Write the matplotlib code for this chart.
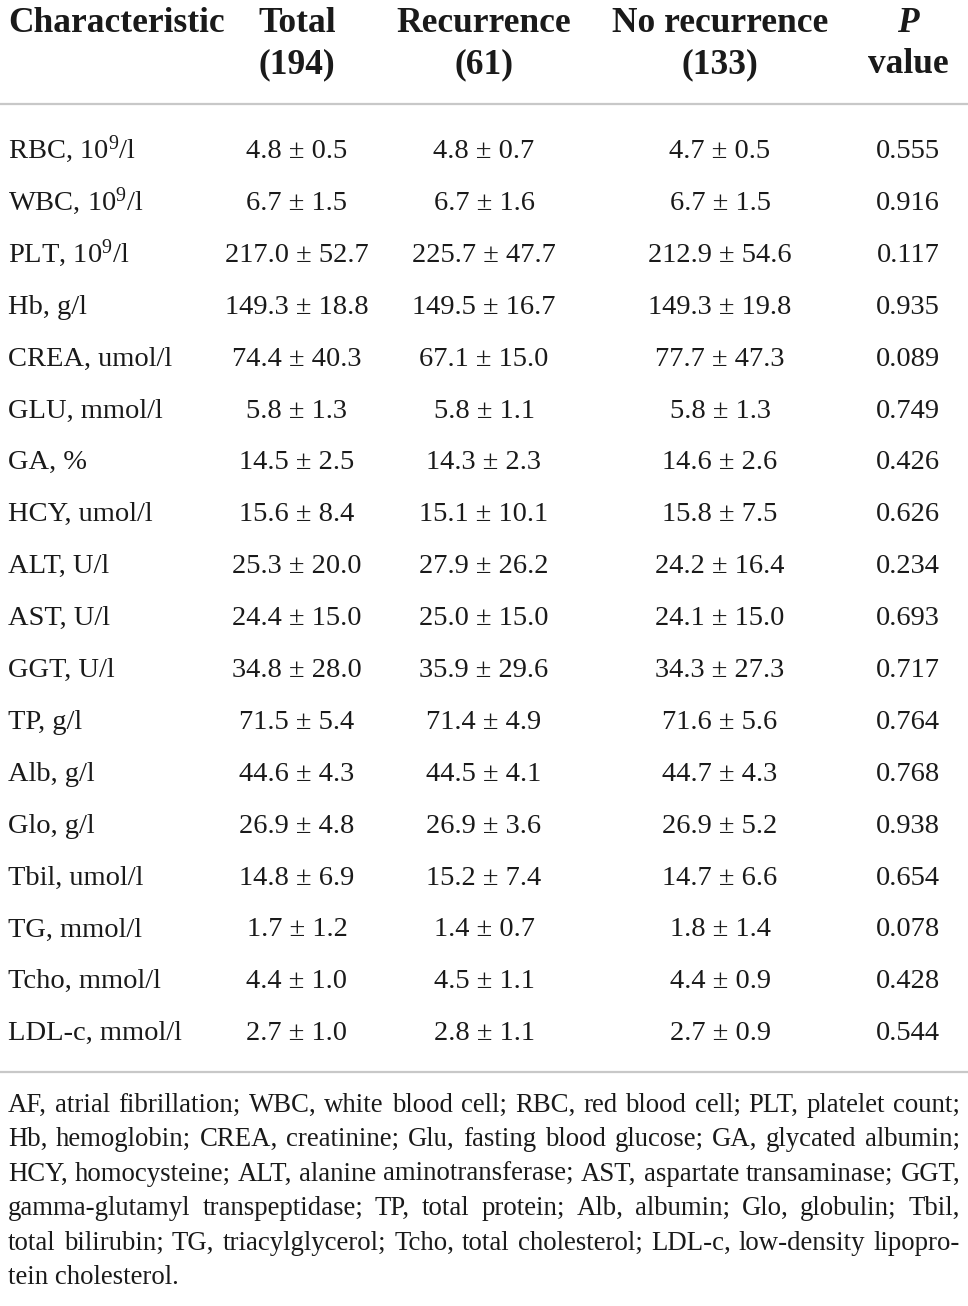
import matplotlib
matplotlib.use("Agg")
import matplotlib.pyplot as plt

plt.rcParams["font.family"] = ["Liberation Serif", "DejaVu Serif"]
plt.rcParams["mathtext.fontset"] = "custom"
plt.rcParams["mathtext.rm"] = "Liberation Serif"
plt.rcParams["mathtext.it"] = "Liberation Serif:italic"

# table data
characteristics = [
    "RBC, 10$^9$/l", "WBC, 10$^9$/l", "PLT, 10$^9$/l", "Hb, g/l", "CREA, umol/l",
    "GLU, mmol/l", "GA, %", "HCY, umol/l", "ALT, U/l", "AST, U/l", "GGT, U/l",
    "TP, g/l", "Alb, g/l", "Glo, g/l", "Tbil, umol/l", "TG, mmol/l",
    "Tcho, mmol/l", "LDL-c, mmol/l",
]
total = [
    "4.8 ± 0.5", "6.7 ± 1.5", "217.0 ± 52.7", "149.3 ± 18.8", "74.4 ± 40.3",
    "5.8 ± 1.3", "14.5 ± 2.5", "15.6 ± 8.4", "25.3 ± 20.0", "24.4 ± 15.0",
    "34.8 ± 28.0", "71.5 ± 5.4", "44.6 ± 4.3", "26.9 ± 4.8", "14.8 ± 6.9",
    "1.7 ± 1.2", "4.4 ± 1.0", "2.7 ± 1.0",
]
recurrence = [
    "4.8 ± 0.7", "6.7 ± 1.6", "225.7 ± 47.7", "149.5 ± 16.7", "67.1 ± 15.0",
    "5.8 ± 1.1", "14.3 ± 2.3", "15.1 ± 10.1", "27.9 ± 26.2", "25.0 ± 15.0",
    "35.9 ± 29.6", "71.4 ± 4.9", "44.5 ± 4.1", "26.9 ± 3.6", "15.2 ± 7.4",
    "1.4 ± 0.7", "4.5 ± 1.1", "2.8 ± 1.1",
]
no_recurrence = [
    "4.7 ± 0.5", "6.7 ± 1.5", "212.9 ± 54.6", "149.3 ± 19.8", "77.7 ± 47.3",
    "5.8 ± 1.3", "14.6 ± 2.6", "15.8 ± 7.5", "24.2 ± 16.4", "24.1 ± 15.0",
    "34.3 ± 27.3", "71.6 ± 5.6", "44.7 ± 4.3", "26.9 ± 5.2", "14.7 ± 6.6",
    "1.8 ± 1.4", "4.4 ± 0.9", "2.7 ± 0.9",
]
p_values = [
    "0.555", "0.916", "0.117", "0.935", "0.089", "0.749", "0.426", "0.626",
    "0.234", "0.693", "0.717", "0.764", "0.768", "0.938", "0.654", "0.078",
    "0.428", "0.544",
]
footnote_lines = [
    "AF, atrial fibrillation; WBC, white blood cell; RBC, red blood cell; PLT, platelet count;",
    "Hb, hemoglobin; CREA, creatinine; Glu, fasting blood glucose; GA, glycated albumin;",
    "HCY, homocysteine; ALT, alanine aminotransferase; AST, aspartate transaminase; GGT,",
    "gamma-glutamyl transpeptidase; TP, total protein; Alb, albumin; Glo, globulin; Tbil,",
    "total bilirubin; TG, triacylglycerol; Tcho, total cholesterol; LDL-c, low-density lipopro-",
    "tein cholesterol.",
]

W, H = 968, 1306
fig = plt.figure(figsize=(W / 100, H / 100), dpi=100)
ax = fig.add_axes([0, 0, 1, 1])
ax.set_xlim(0, W)
ax.set_ylim(H, 0)
ax.axis("off")

txt = "#1a1a1a"
hdr_size = 25.5
body_size = 20.5

# header (baselines of the two header lines)
col_x = [297, 484, 720, 908]
hb1, hb2 = 32, 73
ax.text(8, hb1, "Characteristic", fontsize=hdr_size, fontweight="bold", color=txt,
        va="baseline", ha="left")
for x, (l1, l2) in zip(col_x[:3], [("Total", "(194)"), ("Recurrence", "(61)"),
                                   ("No recurrence", "(133)")]):
    ax.text(x, hb1, l1, fontsize=hdr_size, fontweight="bold", color=txt, va="baseline", ha="center")
    ax.text(x, hb2, l2, fontsize=hdr_size, fontweight="bold", color=txt, va="baseline", ha="center")
ax.text(col_x[3], hb1, "P", fontsize=hdr_size, fontweight="bold", fontstyle="italic",
        color=txt, va="baseline", ha="center")
ax.text(col_x[3], hb2, "value", fontsize=hdr_size, fontweight="bold", color=txt,
        va="baseline", ha="center")

ax.plot([0, W], [104, 104], color="#c8c8c8", lw=1.6)
ax.plot([0, W], [1072, 1072], color="#c8c8c8", lw=1.6)

# rows
row0, step = 149, 51.9
for i in range(len(characteristics)):
    y = row0 + i * step + 9
    ax.text(8, y, characteristics[i], fontsize=body_size, color=txt, va="baseline", ha="left")
    for x, col in zip(col_x, [total, recurrence, no_recurrence, p_values]):
        ax.text(x, y, col[i], fontsize=body_size, color=txt, va="baseline", ha="center")

# footnote, justified between left and right edges
fig.canvas.draw()
renderer = fig.canvas.get_renderer()


def width_of(s, size):
    t = ax.text(0, 0, s, fontsize=size)
    bb = t.get_window_extent(renderer)
    t.remove()
    return bb.width * (W / fig.bbox.width)


left, right = 8, 960
# pick the size so the widest justified line fits with normal spacing
widest = max(width_of(l, 10) for l in footnote_lines[:-1])
foot_size = 10 * (right - left) / widest * 0.995

for j, line in enumerate(footnote_lines):
    y = 1105 + j * 34.4 + 7
    if j == len(footnote_lines) - 1:
        ax.text(left, y, line, fontsize=foot_size, color=txt, va="baseline", ha="left")
        continue
    words = line.split(" ")
    widths = [width_of(w, foot_size) for w in words]
    gap = (right - left - sum(widths)) / (len(words) - 1)
    x = left
    for w, wd in zip(words, widths):
        ax.text(x, y, w, fontsize=foot_size, color=txt, va="baseline", ha="left")
        x += wd + gap

fig.savefig("out.png", dpi=100)
